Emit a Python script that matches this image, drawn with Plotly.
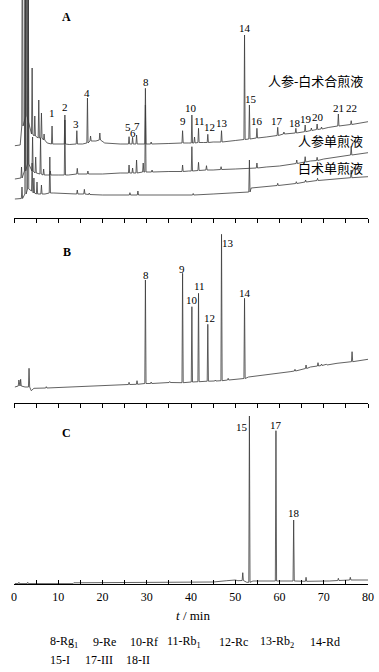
import plotly.graph_objects as go

# ---------------- data (t in min, signal in arbitrary units) ----------------
# Panel A, trace 1: 人参-白术合煎液 (each entry: time, local baseline, apex)
MIX_T    = [0.2, 1.4, 1.9, 2.8, 4.1, 4.7, 5.6, 6.2, 6.8, 7.5, 8.6, 10.0, 11.5, 12.5, 14.2, 15.5, 16.6, 17.3, 18.5, 19.4, 20.5, 24.0,
            26.0, 26.8, 27.7, 29.7, 31.0, 35.0, 38.1, 39.5, 40.2, 40.8, 41.7, 42.8, 43.8, 45.0, 46.9, 50.0, 52.1, 53.2, 54.9,
            57.0, 59.6, 61.0, 63.7, 65.8, 67.2, 68.5, 69.5, 71.0, 73.3, 76.2, 80.0]
MIX_BASE = [0.3, 1.0, 20, 30, 12, 10, 8, 8, 6, 3, 2, 2, 2, 1.5, 2, 2, 3, 5, 5, 6, 3, 2,
            2, 2, 2, 2, 2, 2.5, 3, 3, 3, 3, 3.5, 3.5, 3.5, 4, 4, 5.5, 6.5, 7, 8,
            9, 10.5, 12, 13, 14.3, 15.5, 16.5, 17, 18.5, 20, 21.5, 24.3]
MIX_TOP  = [0.3, 1.0, 300, 300, 78, 30, 46, 33, 12, 3, 20, 2, 31, 1.5, 15.3, 2, 48, 10, 5, 13, 3, 2,
            9.3, 8.7, 11, 57.7, 4, 2.5, 15.3, 3, 31, 9, 17.7, 3.5, 11.7, 4, 15.3, 5.5, 111, 41, 17.7,
            9, 18.7, 14, 17.7, 21, 18, 22, 19, 18.5, 32, 25.3, 24.3]

# Panel A, trace 2: 人参单煎液
GIN_T    = [0.2, 1.5, 1.7, 2.5, 3.2, 4.2, 4.9, 6.0, 6.7, 7.5, 8.2, 10.0, 11.5, 12.3, 14.3, 16.7, 20.0, 24.0, 26.0, 26.8, 27.7,
            29.2, 29.7, 30.5, 31.2, 35.0, 38.1, 39.5, 40.2, 41.7, 43.5, 45.0, 46.8, 50.0, 54.9, 57.0, 60.0, 63.9, 65.8,
            67.0, 68.5, 70.0, 73.0, 76.2, 80.0]
GIN_BASE = [0, 1, 1, 8, 15, 8, 6, 5, 4, 4, 4, 4, 4, 4, 5, 5, 5, 6, 6, 6, 6,
            7, 7, 7, 7, 7.5, 7.5, 8, 8, 8.5, 9, 9, 9.5, 10, 11, 12, 13, 15.5, 17,
            18, 18.5, 20, 22, 24, 26.3]
GIN_TOP  = [0, 1, 12, 300, 300, 42, 22, 41, 10, 4, 8, 4, 59, 4, 10.7, 8, 5, 6, 14, 11, 19,
            16, 74, 7, 9, 7.5, 14, 8, 32.3, 16.7, 13.3, 9, 12.3, 10, 16, 12, 13, 19, 22.3,
            18, 21.7, 20, 22, 32.3, 26.3]

# Panel A, trace 3: 白术单煎液
ATR_T    = [0.2, 1.5, 1.8, 2.6, 3.2, 4.1, 4.5, 5.2, 6.2, 7.0, 8.1, 9.0, 14.3, 15.9, 17.0, 20.0, 26.2, 28.0, 30.0, 40.5,
            45.0, 50.0, 52.9, 53.2, 53.6, 57.0, 59.6, 63.8, 65.9, 68.6, 72.0, 76.2, 80.0]
ATR_BASE = [0, 0.5, 0.5, 5, 10, 8, 6, 5, 5, 5, 6, 6, 5, 5, 4.5, 4, 4, 4, 4, 4,
            5, 6.7, 7, 7, 11, 12.5, 13.5, 15.5, 17, 18.5, 20, 21.3, 22.3]
ATR_TOP  = [0, 0.5, 12, 300, 300, 36, 21, 17, 14, 5, 42, 6, 9, 9.7, 6, 4, 6.3, 8, 4, 5.5,
            5, 6.7, 7, 39, 11, 12.5, 15.7, 17.3, 19, 20.7, 20, 29, 22.3]

# Panel B: ginsenoside reference substances
REF_T    = [0.2, 1.1, 1.5, 2.5, 3.4, 3.9, 4.5, 7.3, 20.0, 26.0, 27.8, 29.7, 31.0, 35.2, 38.1, 40.2, 41.7, 43.8, 45.5,
            46.9, 48.4, 52.1, 53.0, 57.0, 62.4, 63.5, 66.0, 67.0, 68.7, 69.5, 70.6, 73.0, 76.4, 80.0]
REF_BASE = [16, 17, 17, 16, 16, 12.3, 14.7, 15, 17.5, 18.5, 18.7, 19.5, 19.5, 20.5, 20.3, 21, 21.3, 21.8, 22,
            22.3, 23, 24.5, 26, 28, 31.3, 32, 34.5, 36, 37, 37.5, 38, 39.7, 41.3, 43.7]
REF_TOP  = [16, 23, 23.7, 16, 34.7, 12.3, 14.7, 16.3, 17.5, 20.7, 22.3, 123, 21, 21.5, 129.7, 96.3, 109.7, 78.7, 23,
            168.7, 24.7, 104.7, 26, 28, 31.3, 33.7, 38, 36, 40.3, 39, 38.7, 39.7, 51.3, 43.7]

# Panel C: atractylenolide reference substances
ATL_T    = [0.2, 1.1, 3.1, 13.3, 13.5, 26.9, 29.8, 30.1, 45.0, 48.1, 50.0, 50.6, 51.7, 52.6, 53.2, 54.0, 57.0,
            59.2, 63.2, 66.0, 71.1, 73.3, 76.0, 80.0]
ATL_BASE = [0.5, 0.4, 0.4, 0.3, 1.2, 1.3, 1.3, 2, 2, 3.3, 4, 3.3, 3.5, 1.7, 1.7, 3, 2.7,
            3, 3, 2.7, 3, 3.5, 4, 4]
ATL_TOP  = [0.5, 1.7, 1.7, 0.3, 1.2, 1.7, 1.3, 2, 2, 3.3, 4, 3.3, 11.3, 1.7, 168, 3, 2.7,
            153.3, 64, 6.7, 3.3, 5.7, 6.7, 4]

# Peak labels
A_LABELS  = ["1", "2", "3", "4", "5", "6", "7", "8", "9", "10", "11", "12", "13", "14", "15", "16", "17", "18", "19", "20", "21", "22"]
A_LABEL_T = [8.53, 11.48, 13.97, 16.6, 25.7, 26.8, 27.8, 29.75, 38.2, 40.1, 41.9, 44.1, 46.9, 52.2, 53.65, 54.9, 59.4, 63.5, 66.0, 68.8, 73.3, 76.2]
A_LABEL_Y = [105, 111, 94, 125, 91, 85, 92, 136.3, 97.3, 110.3, 97.3, 90.7, 94.7, 189.7, 118.7, 97.3, 97.3, 95.3, 99, 101.3, 109.7, 109.7]

B_LABELS  = ["8", "9", "10", "11", "12", "13", "14"]
B_LABEL_T = [29.75, 37.9, 40.2, 41.9, 44.1, 48.4, 52.1]
B_LABEL_Y = [128, 133.7, 103, 117, 85.3, 160.3, 110.3]

C_LABELS  = ["15", "17", "18"]
C_LABEL_T = [51.5, 59.2, 63.3]
C_LABEL_Y = [157.3, 159, 70.7]

TRACE_NAMES = ["人参-白术合煎液", "人参单煎液", "白术单煎液"]
TRACE_NAME_Y = [136.3, 76.3, 49.7]

MAJOR_TICKS = list(range(0, 81, 10))
MINOR_TICKS = list(range(0, 81, 5))

LEGEND_LINE1 = ["8-Rg<sub>1</sub>", "9-Re", "10-Rf", "11-Rb<sub>1</sub>", "12-Rc", "13-Rb<sub>2</sub>", "14-Rd"]
LEGEND_LINE2 = ["15-I", "17-III", "18-II"]

# ---------------- style / layout constants ----------------
HW = 0.14                      # half width of a peak (min)
OFFSETS = [72, 39, 19]         # vertical stacking offsets in panel A
LINE = dict(color="#3a3a3a", width=0.8)
SERIF = '"Liberation Serif", "Times New Roman", serif'
CJK = '"Liberation Serif", "Noto Sans CJK SC", serif'

W, H = 379, 672
ML, MR, MT, MB = 14, 11, 0, 88
PH = H - MT - MB                      # 584
DOM_C = [0, 181 / PH]
DOM_B = [181 / PH, 366 / PH]
DOM_A = [366 / PH, 1]


def build(t, base, top, offset=0.0):
    xs, ys = [], []
    for ti, b, p in zip(t, base, top):
        if p > b + 1e-9:
            xs += [ti - HW, ti, ti + HW]
            ys += [b + offset, p + offset, b + offset]
        else:
            xs.append(ti)
            ys.append(b + offset)
    return xs, ys


fig = go.Figure()

for (t, b, p), off in zip([(MIX_T, MIX_BASE, MIX_TOP), (GIN_T, GIN_BASE, GIN_TOP), (ATR_T, ATR_BASE, ATR_TOP)], OFFSETS):
    xs, ys = build(t, b, p, off)
    fig.add_trace(go.Scatter(x=xs, y=ys, mode="lines", line=LINE, xaxis="x3", yaxis="y3",
                             showlegend=False, hoverinfo="skip"))

xs, ys = build(REF_T, REF_BASE, REF_TOP)
fig.add_trace(go.Scatter(x=xs, y=ys, mode="lines", line=LINE, xaxis="x2", yaxis="y2",
                         showlegend=False, hoverinfo="skip"))

xs, ys = build(ATL_T, ATL_BASE, ATL_TOP)
fig.add_trace(go.Scatter(x=xs, y=ys, mode="lines", line=LINE, xaxis="x", yaxis="y",
                         showlegend=False, hoverinfo="skip"))

ann = []
lab_font = dict(family=SERIF, size=11, color="black")
for txt, tx, ty in zip(A_LABELS, A_LABEL_T, A_LABEL_Y):
    ann.append(dict(x=tx, y=ty, xref="x3", yref="y3", text=txt, showarrow=False, font=lab_font,
                    xanchor="center", yanchor="middle"))
for txt, tx, ty in zip(B_LABELS, B_LABEL_T, B_LABEL_Y):
    ann.append(dict(x=tx, y=ty, xref="x2", yref="y2", text=txt, showarrow=False, font=lab_font,
                    xanchor="center", yanchor="middle"))
for txt, tx, ty in zip(C_LABELS, C_LABEL_T, C_LABEL_Y):
    ann.append(dict(x=tx, y=ty, xref="x", yref="y", text=txt, showarrow=False, font=lab_font,
                    xanchor="center", yanchor="middle"))

for name, ny in zip(TRACE_NAMES, TRACE_NAME_Y):
    ann.append(dict(x=79.4, y=ny, xref="x3", yref="y3", text=name, showarrow=False,
                    font=dict(family=CJK, size=13, color="black"), xanchor="right", yanchor="middle"))

panel_font = dict(family=SERIF, size=12, color="black")
ann.append(dict(x=11.9, y=200.7, xref="x3", yref="y3", text="<b>A</b>", showarrow=False, font=panel_font))
ann.append(dict(x=11.9, y=151.3, xref="x2", yref="y2", text="<b>B</b>", showarrow=False, font=panel_font))
ann.append(dict(x=11.9, y=150.7, xref="x", yref="y", text="<b>C</b>", showarrow=False, font=panel_font))

# axis title
ann.append(dict(x=(193 - ML) / (W - ML - MR), y=(PH - 615) / PH, xref="paper", yref="paper",
                text="<i>t</i> / min", showarrow=False, font=dict(family=SERIF, size=13, color="black"),
                xanchor="center", yanchor="middle"))

# compound key
leg_font = dict(family=SERIF, size=12, color="black")
for txt, px in zip(LEGEND_LINE1, [48.3, 90.7, 128.3, 165, 216.7, 257.7, 308.3]):
    ann.append(dict(x=(px - ML) / (W - ML - MR), y=(PH - 641.7) / PH, xref="paper", yref="paper",
                    text=txt, showarrow=False, font=leg_font, xanchor="left", yanchor="middle"))
for txt, px in zip(LEGEND_LINE2, [48.3, 82.7, 124]):
    ann.append(dict(x=(px - ML) / (W - ML - MR), y=(PH - 660) / PH, xref="paper", yref="paper",
                    text=txt, showarrow=False, font=leg_font, xanchor="left", yanchor="middle"))


def xaxis_style(anchor, direction, labels):
    return dict(range=[0, 80], anchor=anchor, showline=True, linecolor="black", linewidth=1,
                showgrid=False, zeroline=False, fixedrange=True, automargin=False,
                tickmode="array", tickvals=MAJOR_TICKS, ticks=direction, ticklen=4,
                tickcolor="black", tickwidth=1, showticklabels=labels,
                tickfont=dict(family=SERIF, size=12, color="black"), ticklabelstandoff=2,
                minor=dict(tickmode="array", tickvals=MINOR_TICKS, ticks=direction, ticklen=4,
                           tickcolor="black", tickwidth=1, showgrid=False))


fig.update_layout(
    width=W, height=H,
    margin=dict(l=ML, r=MR, t=MT, b=MB, autoexpand=False),
    paper_bgcolor="white", plot_bgcolor="white",
    xaxis=xaxis_style("y", "inside", True),
    xaxis2=xaxis_style("y2", "outside", False),
    xaxis3=xaxis_style("y3", "outside", False),
    yaxis=dict(domain=DOM_C, range=[0, 181], visible=False, fixedrange=True),
    yaxis2=dict(domain=DOM_B, range=[0, 185], visible=False, fixedrange=True),
    yaxis3=dict(domain=DOM_A, range=[0, 218], visible=False, fixedrange=True),
    annotations=ann,
    showlegend=False,
)

fig.write_html("out.html", config={"displayModeBar": False},
               post_script="document.body.style.margin='0';document.body.style.padding='0';")
